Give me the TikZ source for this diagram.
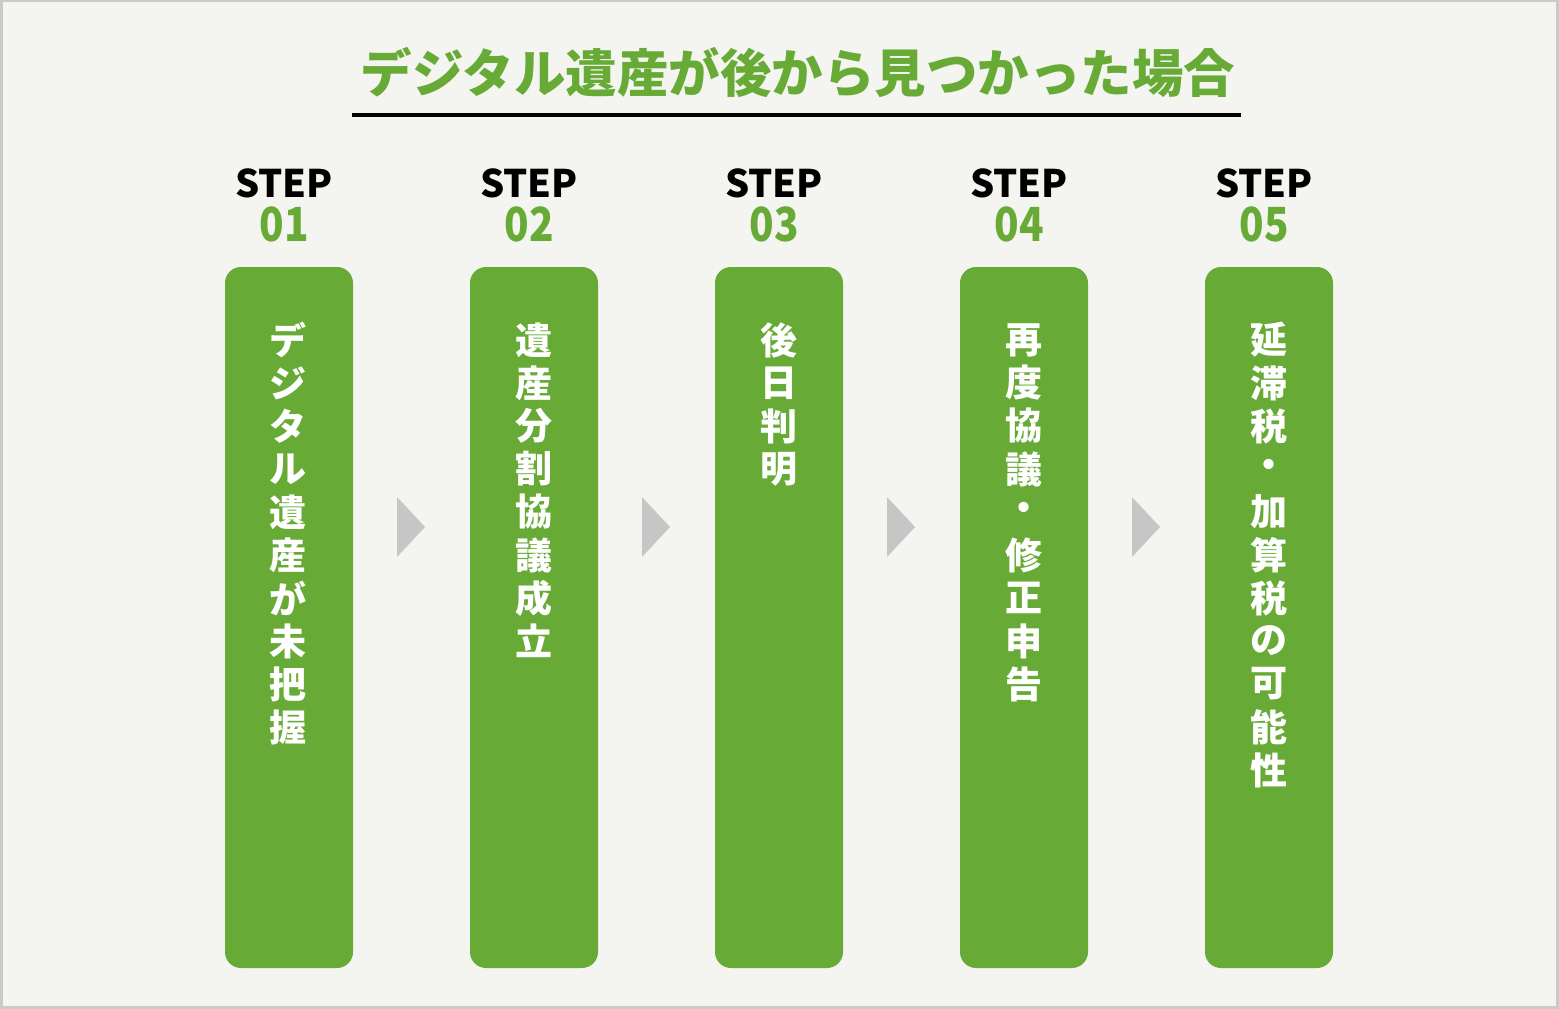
\documentclass[tikz,border=0pt]{standalone}
\usepackage{fontspec}
\usepackage{graphicx}
\newfontfamily\jp{Noto Sans CJK JP}
\definecolor{bg}{HTML}{F4F5F0}
\definecolor{grn}{HTML}{67AA36}
\definecolor{arrgray}{HTML}{C6C6C6}
\definecolor{framegray}{HTML}{CACACA}
\tikzset{
  stepbox/.style={fill=grn, rounded corners=16pt, minimum width=128pt, minimum height=701pt, inner sep=0pt, draw=none},
  steplabel/.style={font=\jp\bfseries\fontsize{38}{38}\selectfont, text=black, inner sep=0pt},
  stepnum/.style={font=\jp\bfseries\fontsize{47}{47}\selectfont, text=grn, inner sep=0pt},
  vchar/.style={font=\jp\bfseries\fontsize{37}{37}\selectfont, text=white, inner sep=0pt},
  chevron/.style={fill=arrgray, draw=none},
}
\begin{document}
\begin{tikzpicture}[x=1pt,y=-1pt]
\fill[framegray] (0,0) rectangle (1559,1009);
\fill[bg] (3,2) rectangle (1556,1006);
\useasboundingbox (0,0) rectangle (1559,1009);

\node[font=\jp\bfseries\fontsize{51.5}{51.5}\selectfont, text=grn, inner sep=0pt] (title) at (798,72) {デジタル遺産が後から見つかった場合};
\draw[line width=4pt] (352,115) -- (1241,115);

\foreach \n/\x in {1/289,2/534,3/779,4/1024,5/1269}{
  \node[stepbox] (b\n) at (\x,617.5) {};
  \node[steplabel] (s\n) at ({\x-5},183) {STEP};
  \node[stepnum] (n\n) at ({\x-5},224) {\scalebox{0.86}[1]{0\n}};
}

\foreach \a in {411.5,656.5,901.5,1146.5}{
  \fill[chevron] ({\a-14.5},497) -- ({\a+13.5},527) -- ({\a-14.5},557) -- cycle;
}

\foreach \c [count=\i] in {デ,ジ,タ,ル,遺,産,が,未,把,握}
  \node[vchar] (c1-\i) at (288,{340+43*(\i-1)}) {\c};
\foreach \c [count=\i] in {遺,産,分,割,協,議,成,立}
  \node[vchar] (c2-\i) at (534,{340+43*(\i-1)}) {\c};
\foreach \c [count=\i] in {後,日,判,明}
  \node[vchar] (c3-\i) at (779,{340+43*(\i-1)}) {\c};
\foreach \c [count=\i] in {再,度,協,議,・,修,正,申,告}
  \node[vchar] (c4-\i) at (1024,{340+43*(\i-1)}) {\c};
\foreach \c [count=\i] in {延,滞,税,・,加,算,税,の,可,能,性}
  \node[vchar] (c5-\i) at (1269,{340+43*(\i-1)}) {\c};
\end{tikzpicture}
\end{document}
